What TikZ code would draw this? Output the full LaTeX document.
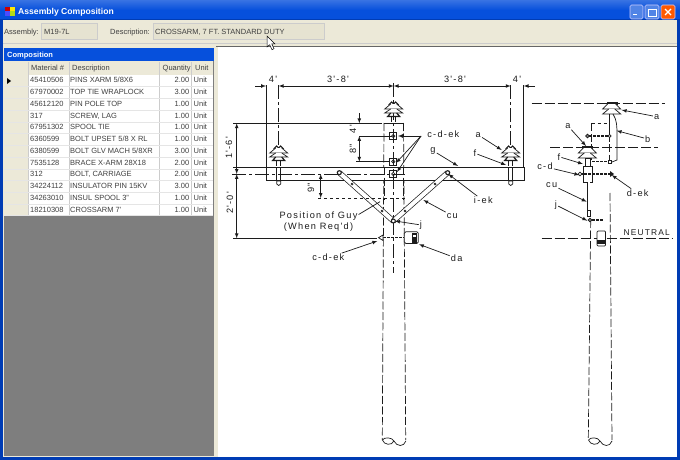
\documentclass[tikz,border=0pt]{standalone}
\usepackage{fontspec}
\setmainfont{Liberation Sans}
\newfontfamily\cadfont[LetterSpace=14]{Liberation Sans}
\definecolor{xpbeige}{HTML}{ECE9D8}
\definecolor{xpblue}{HTML}{0650DC}
\definecolor{xpdark}{HTML}{003CB4}
\definecolor{xpfield}{HTML}{E6E3D1}
\definecolor{gridgray}{HTML}{7E7E7E}
\definecolor{cadink}{HTML}{1C1C1C}
\tikzset{
  uitext/.style={inner sep=0pt, anchor=west, text height=5.5pt, text depth=1pt, text=black!75, font=\fontsize{7.5}{9}\selectfont},
  cadtext/.style={inner sep=1pt, text=cadink, font=\cadfont\fontsize{9.2}{11}\selectfont, align=center},
  cad/.style={draw=cadink, line width=.7pt},
  dimline/.style={cad, <->, >=latex},
  leader/.style={cad, ->, >=latex},
  poleline/.style={cad, dash pattern=on 8pt off 2.5pt},
  centerline/.style={cad, dash pattern=on 14pt off 3pt on 3pt off 3pt},
  boltline/.style={draw=cadink, line width=1.5pt, dash pattern=on 3pt off 1pt},
  xpbutton/.style={draw=white!80!blue, rounded corners=1.5pt, line width=.6pt},
  insul/.pic={
    \draw[cad, line width=1.1pt] (-5,3) -- (-2,0) -- (0,2) -- (2,0) -- (5,3);
    \draw[cad, fill=white] (-3,2) -- (-9,7) -- (9,7) -- (3,2);
    \draw[cad, fill=white] (-3,7) -- (-9,11) -- (9,11) -- (3,7);
    \draw[cad, line width=1.2pt] (-3,11) -- (-6,14.5) -- (6,14.5) -- (3,11);
    \draw[cad] (-2,14.5) -- (-2,20) (2,14.5) -- (2,20);
  },
  sideinsul/.pic={
    \draw[cadink, fill=cadink] (-5,0) rectangle (5,2);
    \draw[cad, fill=white] (-4,2) -- (-9,7) -- (9,7) -- (4,2);
    \draw[cad, fill=white] (-3,7) -- (-9,12) -- (9,12) -- (3,7);
  },
  polebase/.pic={
    \draw[cad] (-11.5,0) .. controls (-10,5) and (-2,6) .. (0,1) .. controls (-2,-3) and (-10,-3) .. (-11.5,0);
    \draw[cad] (0,1) .. controls (3,7) and (10,7) .. (12,1);
  },
  sqbolt/.pic={
    \draw[cad] (-3.5,-3.5) rectangle (3.5,3.5);
    \draw[cad] (0,0) circle (1.7pt);
  },
}
\begin{document}
\begin{tikzpicture}[x=1pt,y=-1pt]
   \useasboundingbox (0,0) rectangle (680,460);

   % window
   \fill[xpdark] (0,0) rectangle (680,460);
   \fill[xpbeige] (3,20) rectangle (676.5,456.5);
   \shade[top color=xpblue!80!white, bottom color=xpblue, middle color=xpblue] (0,0) rectangle (680,20);
   \fill[xpdark] (0,19.5) rectangle (680,20.5);
   \fill[black!20] (3,43) rectangle (676.5,44);
   \fill[black!60] (216,46.5) rectangle (676.5,47.5);

   \fill[red!80!black] (5,7) rectangle (10,11.5);
   \fill[yellow!90!orange] (10,7) rectangle (15,11.5);
   \fill[blue!70] (5,11.5) rectangle (10,16);
   \fill[yellow!70!green] (10,11.5) rectangle (15,16);
   \node[anchor=west, inner sep=0pt, text=white, font=\bfseries\fontsize{8.6}{11}\selectfont] (wintitle) at (18,12) {Assembly Composition};

   \draw[xpbutton, fill=xpblue!70!white] (630,5) rectangle (643,19);
   \fill[white] (632.5,14) rectangle (637,15.5);
   \draw[xpbutton, fill=xpblue!70!white] (645,5) rectangle (659,19);
   \draw[white, line width=.8pt] (648,9) rectangle (656,16);
   \draw[xpbutton, fill=orange!70!red] (661,5) rectangle (675,19);
   \draw[white, line width=1.2pt] (665,9) -- (671,15) (671,9) -- (665,15);

   % header fields
   \node[uitext] (asmlabel) at (4,32) {Assembly:};
   \draw[black!20, fill=xpfield] (41,23) rectangle (97,39);
   \node[uitext] (asmvalue) at (44,32) {M19-7L};
   \node[uitext] (desclabel) at (110,32) {Description:};
   \draw[black!20, fill=xpfield] (153,23) rectangle (324,39);
   \node[uitext] (descvalue) at (155,32) {CROSSARM, 7 FT. STANDARD DUTY};

   % composition grid
   \fill[gridgray] (4,48) rectangle (214,456);
   \fill[xpblue] (4,48) rectangle (214,61);
   \node[uitext, text=white, font=\bfseries\fontsize{7.5}{9}\selectfont] (gridtitle) at (7,55) {Composition};
   \fill[xpbeige] (4,61) rectangle (213,75);
   \fill[white] (28,75) rectangle (213,215.7);
   \fill[xpbeige] (4,75) rectangle (28,215.7);
   \foreach \x in {28,69,159,191}
   \draw[black!20] (\x,62) -- (\x,215.7);
   \node[uitext] (hmat) at (31,68) {Material \#};
   \node[uitext] (hdesc) at (72,68) {Description};
   \node[uitext] (hqty) at (162.5,68) {Quantity};
   \node[uitext] (hunit) at (195,68) {Unit};

   \foreach \m/\d/\q [count=\r] in {
      45410506/{PINS XARM 5/8X6}/2.00,
      67970002/{TOP TIE WRAPLOCK}/3.00,
      45612120/{PIN POLE TOP}/1.00,
      317/{SCREW, LAG}/1.00,
      67951302/{SPOOL TIE}/1.00,
      6360599/{BOLT UPSET 5/8 X RL}/1.00,
      6380599/{BOLT GLV MACH 5/8XR}/3.00,
      7535128/{BRACE X-ARM 28X18}/2.00,
      312/{BOLT, CARRIAGE}/2.00,
      34224112/{INSULATOR PIN 15KV}/3.00,
      34263010/{INSUL SPOOL 3"}/1.00,
      18210308/{CROSSARM 7'}/1.00}
   {
      \pgfmathsetmacro{\yy}{69+11.73*\r}
      \draw[black!10] (4,\yy+5.9) -- (213,\yy+5.9);
      \node[uitext] (mat\r) at (30,\yy) {\m};
      \node[uitext] (desc\r) at (70,\yy) {\d};
      \node[uitext, anchor=east] (qty\r) at (189.5,\yy) {\q};
      \node[uitext] (unit\r) at (193.5,\yy) {Unit};
   }
   \fill[black] (7,78) -- (11,81) -- (7,84) -- cycle;

   % drawing sheet
   \fill[white] (218,47.5) rectangle (676.5,456.5);

   % front view: pole
   \draw[poleline] (384,123) -- (382.3,440);
   \draw[poleline] (403.5,123) -- (405.7,440);
   \draw[cad] (384,123) -- (403.5,123);
   \pic at (393.9,440) {polebase};

   % front view: crossarm
   \draw[cad, fill=white] (266.5,167) rectangle (524,180);
   \draw[poleline] (384,167) -- (384,200);
   \draw[poleline] (403.5,167) -- (403.5,200);
   \draw[centerline] (232,174) -- (405,174);
   \draw[centerline] (393.7,83) -- (393.7,273);

   % braces
   \draw[cad, double=white, double distance=4pt] (339.3,172.7) -- (393.3,221);
   \draw[cad, double=white, double distance=4pt] (447.7,172.7) -- (393.3,221);
   \foreach \x/\y in {339.3/172.7, 447.7/172.7, 393.3/221}
   \draw[cad, fill=white, line width=1.1pt] (\x,\y) circle (2pt);
   \foreach \x/\y in {352/184, 382/211, 435/184, 405/211}
   \draw[cad] (\x,\y) circle (1pt);

   % insulators and bolts
   \pic at (278.7,146) {insul};
   \pic at (510.7,146) {insul};
   \pic at (393.7,102) {insul};
   \foreach \x in {278.7,510.7} {
      \draw[cad] (\x-2,167) -- (\x-2,181) (\x+2,167) -- (\x+2,181);
      \draw[cad, fill=white] (\x-2,181) -- (\x+2,181) -- (\x+2,184) -- (\x,185.5) -- (\x-2,184) -- cycle;
   }
   \foreach \y in {136,161.5,174}
   \pic at (393.3,\y) {sqbolt};

   % neutral spool, front view
   \draw[boltline] (383,237.7) -- (404,237.7);
   \draw[cad, fill=white] (378.5,237.7) -- (383,235) -- (383,240.5) -- cycle;
   \draw[cad, fill=white, rounded corners=1.5pt] (404.3,231.7) rectangle (418.3,243.5);
   \fill[cadink] (412,232.5) rectangle (416.5,242.5);
   \fill[white] (413,235) rectangle (415.5,237);

   % dimensions across the top
   \draw[cad] (266,85) -- (266,167);
   \draw[cad] (523.7,85) -- (523.7,167);
   \draw[centerline] (278.7,85) -- (278.7,147);
   \draw[centerline] (510.7,85) -- (510.7,147);
   \coordinate (dimA) at (266,86);
   \coordinate (dimB) at (278.7,86);
   \coordinate (dimC) at (393.7,86);
   \coordinate (dimD) at (510.7,86);
   \coordinate (dimE) at (523.7,86);
   \draw[leader] (255,86) -- (dimA);
   \draw[dimline] (dimB) -- (dimC);
   \draw[dimline] (dimC) -- (dimD);
   \draw[leader] (535,86) -- (dimE);
   \node[cadtext] (fourL) at (273,79) {4'};
   \node[cadtext] (spanL) at (338,79.5) {3'-8'};
   \node[cadtext] (spanR) at (455,79.5) {3'-8'};
   \node[cadtext] (fourR) at (517,79) {4'};

   % dimensions at the left
   \draw[cad] (233,123.3) -- (382,123.3);
   \draw[cad] (233,238.3) -- (377,238.3);
   \coordinate (dimT) at (236.7,123.3);
   \coordinate (dimM) at (236.7,174);
   \coordinate (dimN) at (236.7,238.3);
   \draw[dimline] (dimT) -- (dimM);
   \draw[dimline] (dimM) -- (dimN);
   \draw[cad] (233,167) -- (266.5,167);
   \node[cadtext, rotate=90] (oneSix) at (229,148) {1'-6'};
   \node[cadtext, rotate=90] (twoZero) at (230,203) {2'-0'};

   % dimensions on the pole
   \draw[cad] (359.3,136) -- (392,136);
   \draw[cad] (356,161.7) -- (390,161.7);
   \coordinate (dimP) at (359.3,123.3);
   \coordinate (dimQ) at (359.3,136);
   \coordinate (dimR) at (359.3,161.7);
   \draw[leader] (359.3,113) -- (dimP);
   \draw[dimline] (dimQ) -- (dimR);
   \node[cadtext, rotate=90] (fourIn) at (353,128.5) {4"};
   \node[cadtext, rotate=90] (eightIn) at (353,149) {8"};
   \coordinate (dimS) at (320.7,174);
   \coordinate (dimU) at (320.7,198);
   \draw[dimline] (dimS) -- (dimU);
   \draw[cad, dashed] (318,198) -- (405,198);
   \node[cadtext, rotate=90] (nineIn) at (311,188) {9"};

   % front view labels
   \node[cadtext] (guy) at (318.5,221.5) {Position of Guy\\(When Req'd)};
   \node[cadtext] (cdekT) at (443.3,134) {c-d-ek};
   \node[cadtext] (fa) at (478.3,135) {a};
   \node[cadtext] (ff) at (475,153.3) {f};
   \node[cadtext] (fg) at (433,150.7) {g};
   \node[cadtext] (iek) at (483.3,200.7) {i-ek};
   \node[cadtext] (fcu) at (452.3,215.7) {cu};
   \node[cadtext] (fj) at (421,225) {j};
   \node[cadtext] (cdekB) at (328.3,257.7) {c-d-ek};
   \node[cadtext] (fda) at (456.7,258.3) {da};

   \coordinate (cdekP) at (421,136);
   \draw[leader] (cdekP) -- (398,136);
   \draw[leader] (cdekP) -- (396,163);
   \draw[leader] (cdekP) -- (397,172);
   \draw[leader] (fa) -- (501.7,150);
   \draw[leader] (ff) -- (506,165);
   \draw[leader] (fg) -- (458,166);
   \draw[leader] (iek) -- (448.3,174);
   \draw[leader] (fcu) -- (423.3,200);
   \draw[leader] (fj) -- (395,221);
   \draw[leader] (cdekB) -- (377.3,241);
   \draw[leader] (fda) -- (419,244.3);
   \draw[cad] (guy.north east) ++(0,4) -- (380,201.7);

   % side view: pole
   \draw[cad, dash pattern=on 10pt off 3pt] (531.7,103.3) -- (665,103.3);
   \draw[cad, dash pattern=on 10pt off 3pt] (550,147.7) -- (658,147.7);
   \draw[cad, dash pattern=on 10pt off 3pt] (541.7,238) -- (672.7,238);
   \node[cadtext, anchor=base, font=\cadfont\fontsize{8.4}{10}\selectfont] (neutral) at (646.7,235) {NEUTRAL};
   \draw[cad, dashed] (591.7,123.3) -- (609,123.3);
   \draw[poleline] (591.7,123.3) -- (591.7,160);
   \draw[poleline] (609.3,123.3) -- (609.3,165);
   \draw[poleline] (590.7,220) -- (588.3,440);
   \draw[poleline] (610,193) -- (612,440);
   \pic at (600,440) {polebase};

   % side view: hardware
   \pic at (611.7,102) {sideinsul};
   \pic at (587.3,146) {sideinsul};
   \draw[cad, line width=1.1pt] (609.5,114) -- (609.5,136);
   \draw[cad] (613,114) .. controls (617,120) and (617,127) .. (617,135) -- (617,160) -- (612,162);
   \draw[boltline] (589,136) -- (609,136);
   \draw[boltline] (592,161.7) -- (609,161.7);
   \draw[cad, fill=white] (608,160) rectangle (611,163);
   \draw[cad, fill=white] (609.5,136) circle (1.5pt);
   \draw[cad, fill=gray] (587.5,136) circle (1.8pt);
   \draw[cad, fill=white] (585,158) rectangle (590,166);
   \draw[cad, fill=white] (583,166) rectangle (592,182);
   \draw[boltline] (580,174) -- (612,174);
   \draw[cad, fill=white] (580,174) circle (1.8pt);
   \fill[cadink] (610,171) -- (614,174) -- (610,177) -- cycle;
   \draw[cad, double=white, double distance=2pt] (588.5,182) -- (588.5,210);
   \draw[cad, fill=white] (587,210) rectangle (590.5,216);
   \draw[cad, fill=gray] (590,220) circle (1.8pt);
   \draw[boltline] (592,220) -- (604,220);
   \draw[cad, fill=white, rounded corners=1pt] (597,231) rectangle (605.5,246);
   \fill[cadink] (597,239.5) rectangle (605.5,243.5);

   % side view labels
   \node[cadtext] (sa) at (656.7,116.7) {a};
   \node[cadtext] (sb) at (647.7,139) {b};
   \node[cadtext] (sa2) at (568,126) {a};
   \node[cadtext] (sf) at (559,156.7) {f};
   \node[cadtext] (scd) at (545,166.7) {c-d};
   \node[cadtext] (sdek) at (637.7,193.3) {d-ek};
   \node[cadtext] (scu) at (551.7,185) {cu};
   \node[cadtext] (sj) at (556,205) {j};
   \draw[leader] (sa) -- (621.7,110);
   \draw[leader] (sb) -- (616.7,130.7);
   \draw[leader] (sa2) -- (586,146);
   \draw[leader] (sf) -- (583,164);
   \draw[leader] (scd) -- (579.3,175);
   \draw[leader] (sdek) -- (611.7,175);
   \draw[leader] (scu) -- (586.7,201.7);
   \draw[leader] (sj) -- (587.3,220.7);

   % mouse pointer
   \draw[black, fill=white, line width=.5pt] (267,36) -- (267,47) -- (269.7,44.7) -- (272,49.7) -- (274,48.7) -- (271.8,44) -- (275,44) -- cycle;
\end{tikzpicture}
\end{document}
